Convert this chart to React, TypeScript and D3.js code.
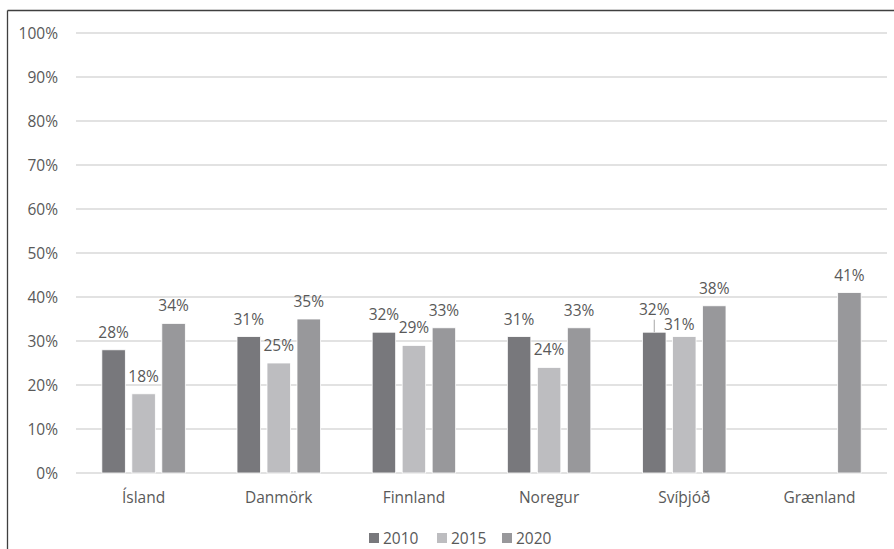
import React from "react";
import * as d3 from "d3";

const categories = ["Ísland", "Danmörk", "Finnland", "Noregur", "Svíþjóð", "Grænland"];
const seriesNames = ["2010", "2015", "2020"];
const values2010: (number | null)[] = [0.28, 0.31, 0.32, 0.31, 0.32, null];
const values2015: (number | null)[] = [0.18, 0.25, 0.29, 0.24, 0.31, null];
const values2020: (number | null)[] = [0.34, 0.35, 0.33, 0.33, 0.38, 0.41];
const seriesColors = ["#78787c", "#bdbdc0", "#98989b"];
const yTicks = [0, 0.1, 0.2, 0.3, 0.4, 0.5, 0.6, 0.7, 0.8, 0.9, 1.0];

// label nudges (Excel auto-placement) keyed by "category|series"
const labelNudges: Record<string, { dx: number; dy: number; leader?: boolean }> = {
  "Svíþjóð|2010": { dx: 0, dy: -5.5, leader: true },
  "Svíþjóð|2015": { dx: -5, dy: 5 },
};

const W = 894;
const H = 549;
const FONT = "'Open Sans', 'Noto Sans', sans-serif";
const FS = 15.5;
const TEXT = "#595959";

export default function App() {
  const plotLeft = 76;
  const plotRight = 887;
  const yTop = 33;
  const yBottom = 473;

  const x0 = d3
    .scaleBand<string>()
    .domain(categories)
    .range([plotLeft, plotRight])
    .paddingInner(0.3824)
    .paddingOuter(0.1912);
  const x1 = d3
    .scaleBand<string>()
    .domain(seriesNames)
    .range([0, x0.bandwidth()])
    .paddingInner(0.2167)
    .paddingOuter(0);
  const y = d3.scaleLinear().domain([0, 1]).range([yBottom, yTop]);

  const allSeries = [values2010, values2015, values2020];
  const fmt = d3.format(".0%");

  const bars: React.ReactNode[] = [];
  const labels: React.ReactNode[] = [];
  categories.forEach((cat, ci) => {
    seriesNames.forEach((s, si) => {
      const v = allSeries[si][ci];
      if (v == null) return;
      const bx = (x0(cat) as number) + (x1(s) as number);
      const bw = x1.bandwidth();
      const top = y(v);
      bars.push(
        <rect
          key={`b-${ci}-${si}`}
          x={bx}
          y={top}
          width={bw}
          height={y(0) - top}
          fill={seriesColors[si]}
          stroke="#ffffff"
          strokeWidth={0.8}
        />
      );
      const nudge = labelNudges[`${cat}|${s}`] || { dx: 0, dy: 0 };
      const cx = bx + bw / 2 + nudge.dx;
      const baseline = top - 12 + nudge.dy;
      labels.push(
        <text
          key={`l-${ci}-${si}`}
          x={cx}
          y={baseline}
          textAnchor="middle"
          fontFamily={FONT}
          fontSize={FS}
          fill={TEXT}
        >
          {fmt(v)}
        </text>
      );
      if (nudge.leader) {
        labels.push(
          <line
            key={`ld-${ci}-${si}`}
            x1={cx}
            x2={cx}
            y1={baseline + 5}
            y2={top}
            stroke="#a6a6a6"
            strokeWidth={1}
          />
        );
      }
    });
  });

  const legendStarts = [369, 437, 502];

  return (
    <svg
      width={W}
      height={H}
      style={{ position: "absolute", left: 0, top: 0, background: "#ffffff" }}
    >
      <rect x={0} y={0} width={W} height={H} fill="#ffffff" />
      {/* frame */}
      <line x1={7.5} x2={7.5} y1={10.5} y2={H} stroke="#3f3f3f" strokeWidth={1.3} />
      <line x1={7.5} x2={W} y1={10.5} y2={10.5} stroke="#3f3f3f" strokeWidth={1.3} />

      {/* gridlines & y ticks */}
      {yTicks.map((t) => (
        <g key={`t-${t}`}>
          <line
            x1={plotLeft}
            x2={plotRight}
            y1={y(t)}
            y2={y(t)}
            stroke="#d9d9d9"
            strokeWidth={1.3}
          />
          <text
            x={58}
            y={y(t) + 5.5}
            textAnchor="end"
            fontFamily={FONT}
            fontSize={FS}
            fill={TEXT}
          >
            {fmt(t)}
          </text>
        </g>
      ))}

      {bars}
      {labels}

      {/* category labels */}
      {categories.map((c) => (
        <text
          key={`c-${c}`}
          x={(x0(c) as number) + x0.bandwidth() / 2}
          y={503}
          textAnchor="middle"
          fontFamily={FONT}
          fontSize={FS}
          fill={TEXT}
        >
          {c}
        </text>
      ))}

      {/* legend */}
      {seriesNames.map((s, i) => (
        <g key={`lg-${s}`}>
          <rect x={legendStarts[i]} y={533} width={10} height={10} fill={seriesColors[i]} />
          <text
            x={legendStarts[i] + 14}
            y={544}
            fontFamily={FONT}
            fontSize={FS}
            fill={TEXT}
          >
            {s}
          </text>
        </g>
      ))}
    </svg>
  );
}
